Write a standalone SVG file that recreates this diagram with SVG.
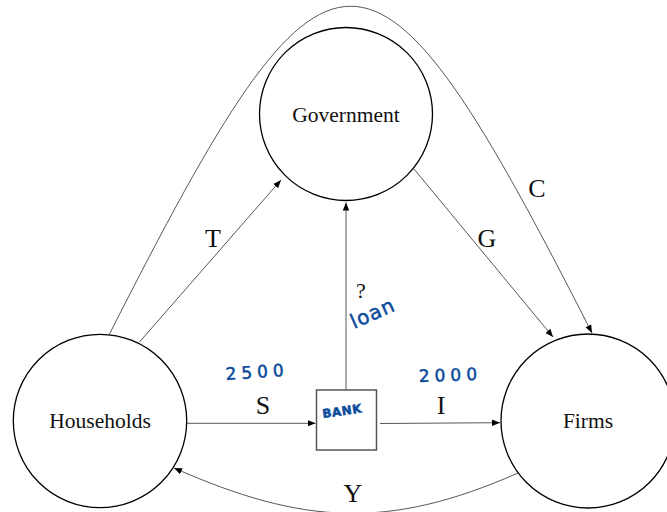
<svg xmlns="http://www.w3.org/2000/svg" width="667" height="512" viewBox="0 0 667 512">
<defs>
<style>
.node{fill:#fff;stroke:#000;stroke-width:1.3}
.box{fill:#fff;stroke:#555;stroke-width:1.5}
.lbl{font-family:"Liberation Serif","Times New Roman",serif;font-size:21.5px;fill:#111;text-anchor:middle}
.el{font-family:"Liberation Serif","Times New Roman",serif;font-size:26px;fill:#111;text-anchor:middle}
.conn{fill:none;stroke:#444;stroke-width:0.9}
.hand{font-family:"DejaVu Sans","Liberation Sans",sans-serif;fill:#0b4a9b;stroke:#0b4a9b;stroke-width:0.5;font-weight:normal}
</style>
<marker id="ah" viewBox="0 0 10 10" refX="10" refY="5" markerWidth="8" markerHeight="8" markerUnits="userSpaceOnUse" orient="auto">
<path d="M0,1 L10,5 L0,9 Z" fill="#000"/>
</marker>
</defs>
<rect width="667" height="512" fill="#fff"/>
<g id="connectors">
<path class="conn" d="M109,335 C331,-103 370,-103 592,333" marker-end="url(#ah)"/>
<path class="conn" d="M139.5,342 L281,180" marker-end="url(#ah)"/>
<path class="conn" d="M414,169 L553,337" marker-end="url(#ah)"/>
<path class="conn" d="M346,390 L346,202.5" marker-end="url(#ah)"/>
<path class="conn" d="M187,423.3 L315.5,423.3" marker-end="url(#ah)"/>
<path class="conn" d="M380,423.5 L500,422.7" marker-end="url(#ah)"/>
<path class="conn" d="M518,473 C389,530 303,525 174,468" marker-end="url(#ah)"/>
<text class="el" x="213" y="247">T</text>
<text class="el" x="487" y="247">G</text>
<text class="el" x="537" y="197">C</text>
<text class="el" x="263" y="414">S</text>
<text class="el" x="441" y="414">I</text>
<text class="el" x="353" y="502">Y</text>
<text class="lbl" x="361" y="298" style="font-size:22px">?</text>
</g>
<g id="government">
<circle class="node" cx="346" cy="114" r="86.5"/>
<text class="lbl" x="346" y="121.5">Government</text>
</g>
<g id="households">
<circle class="node" cx="100" cy="421" r="86.7"/>
<text class="lbl" x="100" y="427.5">Households</text>
</g>
<g id="firms">
<circle class="node" cx="588" cy="421" r="87"/>
<text class="lbl" x="588" y="427.5">Firms</text>
</g>
<g id="bank">
<rect class="box" x="316.5" y="390" width="60" height="60"/>
<text class="hand" x="323" y="418" transform="rotate(-8 323 418)" style="font-size:12px;font-weight:bold;letter-spacing:0.5px">BANK</text>
</g>
<g id="annotations">
<text class="hand" x="226" y="380" transform="rotate(-4 226 380)" style="font-size:17px;letter-spacing:5px">2500</text>
<text class="hand" x="419" y="382" transform="rotate(-2 419 382)" style="font-size:17px;letter-spacing:5px">2000</text>
<text class="hand" x="354" y="329" transform="rotate(-24 354 329)" style="font-size:20px;letter-spacing:1px">loan</text>
</g>
</svg>
